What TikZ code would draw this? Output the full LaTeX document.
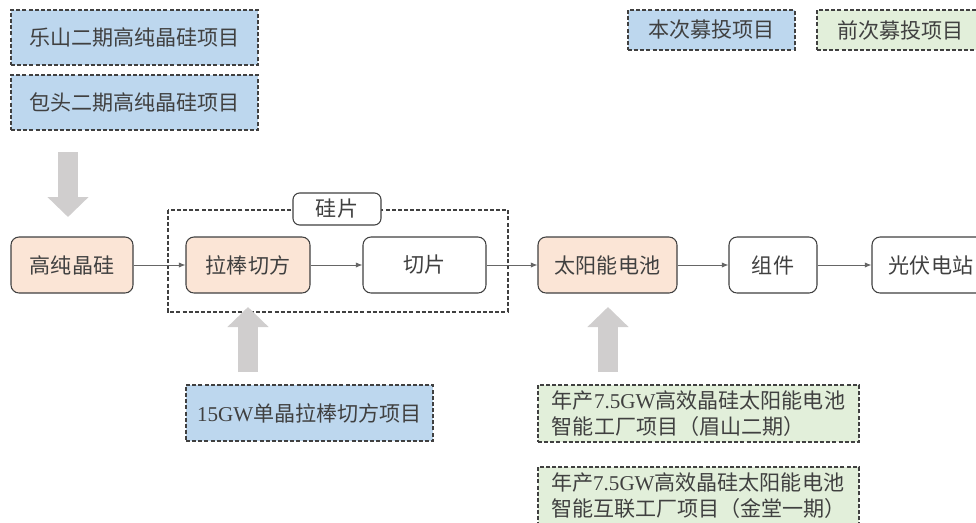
\documentclass[tikz,border=0pt]{standalone}
\usepackage{fontspec}
\setmainfont{Liberation Serif}
\newfontfamily\cjk{Noto Sans CJK SC}
\usetikzlibrary{arrows.meta}

\definecolor{newblue}{RGB}{189,215,238}
\definecolor{oldgreen}{RGB}{226,239,218}
\definecolor{peach}{RGB}{251,229,214}
\definecolor{fatgray}{RGB}{208,206,206}
\definecolor{ink}{RGB}{64,64,64}
\newcommand{\en}[1]{{\rmfamily #1}}

\tikzset{
  proj/.style={draw=ink,dash pattern=on 3pt off 1.6pt,line width=0.9pt,inner sep=0pt,align=left},
  newproj/.style={proj,fill=newblue},
  oldproj/.style={proj,fill=oldgreen},
  stage/.style={draw=ink,rounded corners=6pt,line width=0.8pt,fill=white,inner sep=0pt},
  flow/.style={draw=ink!80,line width=0.6pt,-{Latex[length=5pt,width=4pt]}},
  fatarrow/.style={draw=fatgray,line width=15pt,-{Triangle[length=15pt,width=30pt]}}
}

\begin{document}
\begin{tikzpicture}[x=0.75pt,y=-0.75pt,font=\cjk\fontsize{15.8}{19.5}\selectfont,text=ink]
\useasboundingbox (0,0) rectangle (976,522);
\clip (0,0) rectangle (976,522);

% legend
\node[newproj,minimum width=125.25pt,minimum height=30pt] (legnew) at (711.5,30) {本次募投项目};
\node[oldproj,minimum width=125.25pt,minimum height=30pt] (legold) at (900.5,30) {前次募投项目};

% projects feeding polysilicon
\node[newproj,minimum width=185.25pt,minimum height=41.25pt] (leshan) at (134.5,37.5) {乐山二期高纯晶硅项目};
\node[newproj,minimum width=185.25pt,minimum height=41.25pt] (baotou) at (134.5,102.5) {包头二期高纯晶硅项目};

% wafer frame
\draw[draw=ink,dash pattern=on 3pt off 1.6pt,line width=0.8pt] (168,210) rectangle (508,312);
\node[stage,rounded corners=5pt,minimum width=66pt,minimum height=24pt] (wafer) at (337,209) {硅片};

% main chain
\node[stage,fill=peach,minimum width=91.5pt,minimum height=42pt] (poly) at (72,265) {高纯晶硅};
\node[stage,fill=peach,minimum width=93pt,minimum height=42pt] (ingot) at (248,265) {拉棒切方};
\node[stage,minimum width=92.25pt,minimum height=42pt] (slice) at (424.5,265) {切片};
\node[stage,fill=peach,minimum width=104.25pt,minimum height=42pt] (cell) at (607.5,265) {太阳能电池};
\node[stage,minimum width=66pt,minimum height=42pt] (module) at (773,265) {组件};
\node[stage,minimum width=88.5pt,minimum height=42pt] (plant) at (931,265) {光伏电站};

\draw[flow] (poly) -- (ingot);
\draw[flow] (ingot) -- (slice);
\draw[flow] (slice) -- (cell);
\draw[flow] (cell) -- (module);
\draw[flow] (module) -- (plant);

% projects below
\node[newproj,minimum width=185.25pt,minimum height=42pt] (ingotproj) at (309.5,413) {\en{15GW}单晶拉棒切方项目};
\node[oldproj,minimum width=240.75pt,minimum height=42.75pt] (meishan) at (698.5,413.5) {年产\en{7.5GW}高效晶硅太阳能电池\\智能工厂项目（眉山二期）};
\node[oldproj,minimum width=240.75pt,minimum height=42.75pt] (jintang) at (698.5,495.5) {年产\en{7.5GW}高效晶硅太阳能电池\\智能互联工厂项目（金堂一期）};

% fat arrows
\coordinate (dtop) at (68,152);
\coordinate (dbot) at (68,217);
\coordinate (ubot1) at (248,372);
\coordinate (utop1) at (248,307);
\coordinate (ubot2) at (608,372);
\coordinate (utop2) at (608,307);
\draw[fatarrow] (dtop) -- (dbot);
\draw[fatarrow] (ubot1) -- (utop1);
\draw[fatarrow] (ubot2) -- (utop2);
\end{tikzpicture}
\end{document}
